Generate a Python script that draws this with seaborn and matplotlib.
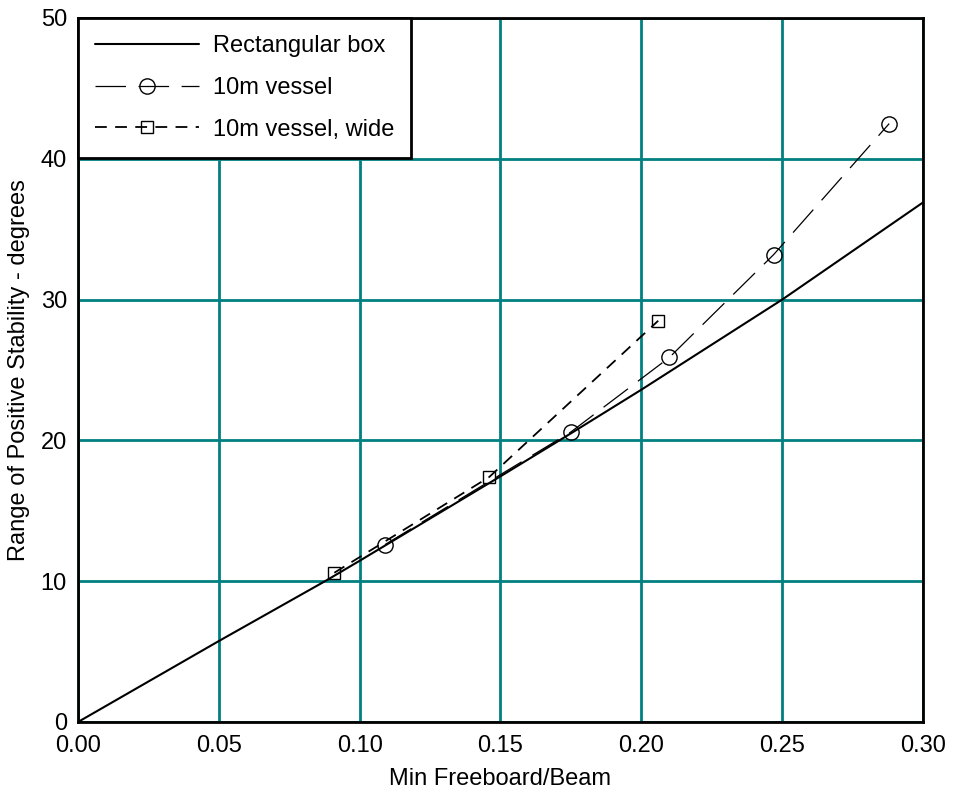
import matplotlib
matplotlib.use("Agg")
import matplotlib.pyplot as plt
import seaborn as sns
import numpy as np

# ---- data ----
rect_x = [0.0, 0.05, 0.0877, 0.10, 0.15, 0.175, 0.20, 0.25, 0.30]
rect_y = [0.0, 5.75, 10.0, 11.45, 17.45, 20.5, 23.6, 30.0, 36.9]

vessel_x = [0.109, 0.175, 0.210, 0.247, 0.288]
vessel_y = [12.6, 20.6, 25.9, 33.2, 42.5]

wide_x = [0.091, 0.146, 0.206]
wide_y = [10.6, 17.4, 28.5]

series_labels = ["Rectangular box", "10m vessel", "10m vessel, wide"]
x_ticks = [0.00, 0.05, 0.10, 0.15, 0.20, 0.25, 0.30]
y_ticks = [0, 10, 20, 30, 40, 50]
x_label = "Min Freeboard/Beam"
y_label = "Range of Positive Stability - degrees"

# ---- style ----
sns.set_style("white")
plt.rcParams["font.family"] = ["Liberation Sans", "DejaVu Sans"]
plt.rcParams["lines.scale_dashes"] = False
plt.rcParams["text.color"] = "black"
plt.rcParams["axes.labelcolor"] = "black"
plt.rcParams["xtick.color"] = "black"
plt.rcParams["ytick.color"] = "black"

fig = plt.figure(figsize=(9.54, 7.95), dpi=100)
ax = fig.add_axes([78 / 954, (795 - 722) / 795, (923 - 78) / 954, (722 - 18) / 795])

sns.lineplot(x=rect_x, y=rect_y, ax=ax, color="black", lw=1.5,
             label=series_labels[0], sort=False)
sns.lineplot(x=vessel_x, y=vessel_y, ax=ax, color="black", lw=0.9,
             linestyle=(0, (22, 9)), marker="o", markersize=11,
             markerfacecolor="none", markeredgecolor="black", markeredgewidth=1.0,
             label=series_labels[1], sort=False)
sns.lineplot(x=wide_x, y=wide_y, ax=ax, color="black", lw=1.3,
             linestyle=(0, (8.5, 6)), marker="s", markersize=8,
             markerfacecolor="none", markeredgecolor="black", markeredgewidth=1.0,
             label=series_labels[2], sort=False)

ax.set_xlim(0, 0.30)
ax.set_ylim(0, 50)
ax.set_xticks(x_ticks)
ax.set_xticklabels([f"{v:.2f}" for v in x_ticks])
ax.set_yticks(y_ticks)
ax.set_yticklabels([str(v) for v in y_ticks])
ax.tick_params(axis="both", length=0, labelsize=17, colors="black")
ax.tick_params(axis="x", pad=9)
ax.tick_params(axis="y", pad=8)

ax.grid(True, color="#008080", lw=2.0)
ax.set_axisbelow(True)
for s in ax.spines.values():
    s.set_color("black")
    s.set_linewidth(2.0)
    s.set_visible(True)

ax.set_xlabel(x_label, fontsize=17, labelpad=8, color="black")
ax.set_ylabel(y_label, fontsize=17, labelpad=8, color="black")

leg = ax.legend(loc="upper left", bbox_to_anchor=(0, 1), borderaxespad=0,
                fontsize=17, frameon=True, fancybox=False, shadow=False,
                handlelength=4.4, handletextpad=0.6, labelspacing=0.84,
                borderpad=0.72, framealpha=1)
leg.get_frame().set_edgecolor("black")
leg.get_frame().set_linewidth(2.0)
for t in leg.get_texts():
    t.set_color("black")

fig.savefig("out.png", dpi=100)
